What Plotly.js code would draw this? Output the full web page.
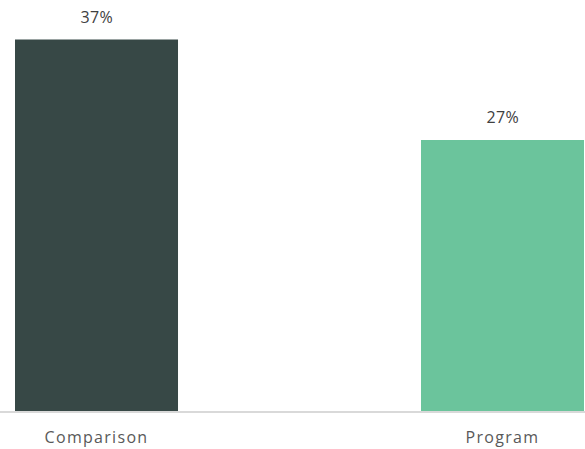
<!DOCTYPE html>
<html>
<head>
<meta charset="utf-8">
<script src="https://cdn.plot.ly/plotly-3.0.1.min.js"></script>
<style>
html,body{margin:0;padding:0;background:#fff;}
#chart{width:585px;height:449px;}
#chart .xtick text{letter-spacing:1.3px;}
#chart .annotation-text{letter-spacing:0.4px;}
</style>
</head>
<body>
<div id="chart"></div>
<script>
const categories = ["Comparison", "Program"];
const values = [37, 27];
const valueLabels = ["37%", "27%"];
const barColors = ["#374846", "#6bc49c"];

const trace = {
  type: "bar",
  x: categories,
  y: values,
  marker: {color: barColors},
  width: 0.4015,
  hoverinfo: "none"
};

const annotations = categories.map((c, i) => ({
  x: c, y: values[i], text: valueLabels[i],
  showarrow: false, yanchor: "bottom", yshift: 10,
  font: {family: "'Open Sans', sans-serif", size: 16, color: "#404040"}
}));

const layout = {
  width: 585, height: 449,
  margin: {l: 0, r: 0, t: 0, b: 38},
  paper_bgcolor: "#ffffff", plot_bgcolor: "#ffffff",
  showlegend: false,
  xaxis: {
    type: "category",
    range: [-0.2377, 1.2032],
    showline: true, linecolor: "#d9d9d9", linewidth: 1.5,
    ticks: "outside", ticklen: 11, tickcolor: "rgba(0,0,0,0)",
    tickfont: {family: "'Open Sans', sans-serif", size: 16, color: "#595959"},
    showgrid: false, zeroline: false, fixedrange: true
  },
  yaxis: {
    range: [0, 40.94],
    visible: false, showgrid: false, zeroline: false, fixedrange: true
  },
  annotations: annotations
};

Plotly.newPlot("chart", [trace], layout, {displayModeBar: false, staticPlot: true});
</script>
</body>
</html>
